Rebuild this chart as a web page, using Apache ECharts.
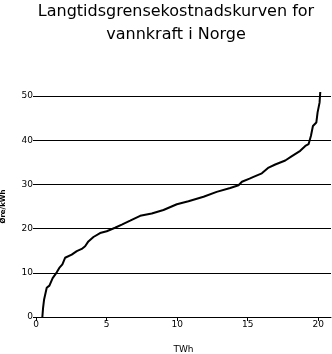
<!DOCTYPE html>
<html>
<head>
<meta charset="utf-8">
<script src="https://cdn.jsdelivr.net/npm/echarts@6/dist/echarts.min.js"></script>
<style>html,body{margin:0;padding:0;background:#fff;}#c{width:332px;height:354px;}</style>
</head>
<body>
<div id="c"></div>
<script>
const titleText = "Langtidsgrensekostnadskurven for\nvannkraft i Norge";
const xName = "TWh";
const yName = "Øre/kWh";
const xTicks = [0, 5, 10, 15, 20];
const energyTWh = [0.45,0.5,0.57,0.76,0.95,1.18,1.47,1.65,1.87,2.06,2.17,2.53,2.89,3.24,3.48,3.71,4.07,4.54,5.01,5.6,6.08,6.67,7.38,8.2,9.03,9.98,10.8,11.87,12.8,13.76,14.35,14.59,15.13,15.41,16.0,16.48,16.95,17.66,18.13,18.72,19.08,19.31,19.48,19.62,19.86,19.95,20.09,20.14];
const costOre = [0,2,3.9,6.6,7.1,8.8,10.1,11.1,11.9,13.4,13.7,14.1,14.9,15.4,16.0,17.1,18.1,19.0,19.4,20.2,20.9,21.8,22.9,23.4,24.2,25.5,26.2,27.2,28.3,29.2,29.8,30.6,31.3,31.7,32.5,33.8,34.5,35.4,36.4,37.6,38.7,39.1,41.0,43.2,44.0,46.3,48.5,50.9];

const points = energyTWh.map((x, i) => [x, costOre[i]]);
const chart = echarts.init(document.getElementById('c'), null, {renderer: 'canvas'});
chart.setOption({
  animation: false,
  backgroundColor: '#fff',
  title: {
    text: titleText,
    left: 171, top: -5, textAlign: 'center',
    textStyle: {fontFamily: 'DejaVu Sans', fontSize: 16, fontWeight: 'normal', color: '#000', lineHeight: 23}
  },
  grid: {left: 36, right: 1, top: 96, bottom: 37, containLabel: false, outerBoundsMode: 'none'},
  xAxis: {
    type: 'value', min: 0, max: 20.9,
    name: xName, nameLocation: 'middle', nameGap: 28,
    nameTextStyle: {fontFamily: 'DejaVu Sans', fontSize: 9, color: '#000'},
    axisLine: {show: true, lineStyle: {color: '#000', width: 1}},
    axisTick: {show: true, length: 4, lineStyle: {color: '#000'}, customValues: xTicks},
    axisLabel: {customValues: xTicks, fontFamily: 'DejaVu Sans', fontSize: 9, color: '#000', margin: 3},
    splitLine: {show: false}
  },
  yAxis: {
    type: 'value', min: 0, max: 50, interval: 10,
    name: yName, nameLocation: 'middle', nameGap: 29, nameRotate: 90,
    nameTextStyle: {fontFamily: 'DejaVu Sans', fontSize: 7, fontWeight: 'bold', color: '#000'},
    axisLine: {show: false},
    axisTick: {show: true, length: 3, lineStyle: {color: '#000'}},
    axisLabel: {fontFamily: 'DejaVu Sans', fontSize: 9, color: '#000', margin: 3},
    splitLine: {show: true, lineStyle: {color: '#000', width: 1}}
  },
  series: [{
    type: 'line', data: points, showSymbol: false, clip: false,
    lineStyle: {color: '#000', width: 2}
  }]
});
</script>
</body>
</html>
